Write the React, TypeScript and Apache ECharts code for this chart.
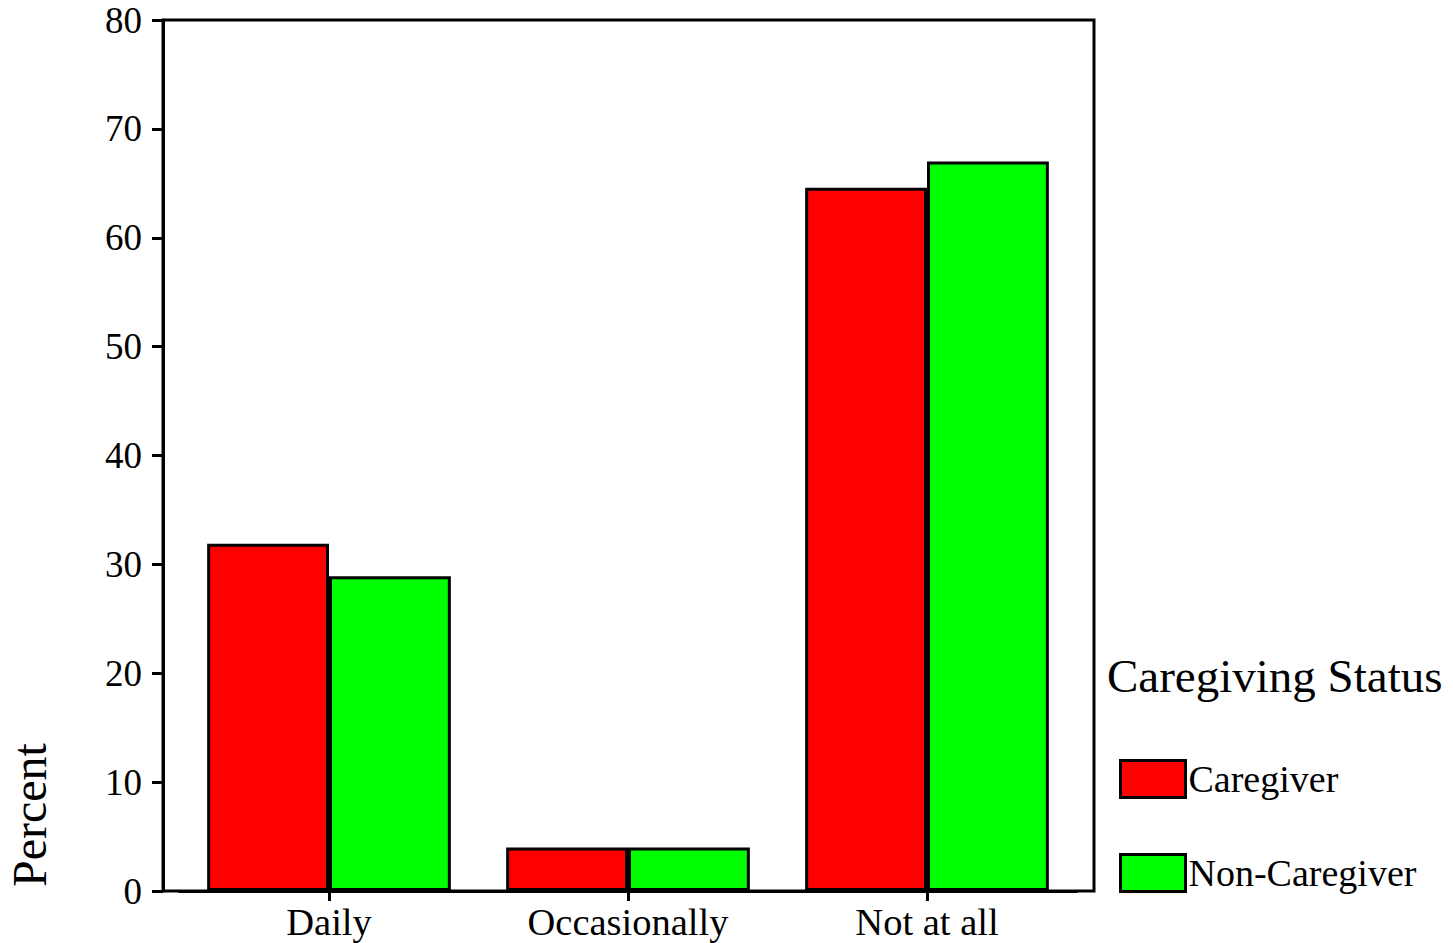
import React, { useEffect, useRef } from "react";
import * as echarts from "echarts";

const categories = ["Daily", "Occasionally", "Not at all"];
const caregiver = [31.9, 4.0, 64.6];
const nonCaregiver = [28.9, 4.0, 67.0];
const seriesNames = ["Caregiver", "Non-Caregiver"];
const legendTitle = "Caregiving Status";
const yAxisTitle = "Percent";

const FONT = "'Liberation Serif', 'Times New Roman', serif";

export default function App() {
  const ref = useRef<HTMLDivElement>(null);
  useEffect(() => {
    if (!ref.current) return;
    const chart = echarts.init(ref.current, undefined, { renderer: "svg" });
    chart.setOption({
      animation: false,
      backgroundColor: "#fff",
      textStyle: { fontFamily: FONT, color: "#000" },
      grid: [
        {
          left: 163,
          right: 359,
          top: 20,
          bottom: 52,
          show: true,
          borderColor: "#000",
          borderWidth: 3,
          backgroundColor: "transparent",
        },
        { left: 179.5, right: 376.5, top: 20, bottom: 52 },
      ],
      xAxis: [
        { gridIndex: 0, type: "value", show: false, min: 0, max: 1 },
        {
          gridIndex: 1,
          type: "category",
          data: categories,
          axisLine: { show: true, lineStyle: { color: "#000", width: 3 } },
          axisTick: {
            show: true,
            alignWithLabel: true,
            interval: 0,
            length: 10,
            lineStyle: { color: "#000", width: 3 },
          },
          axisLabel: {
            fontSize: 38.5,
            fontFamily: FONT,
            color: "#000",
            margin: 11,
            interval: 0,
          },
          splitLine: { show: false },
        },
      ],
      yAxis: [
        { gridIndex: 0, type: "value", show: false, min: 0, max: 1 },
        {
          gridIndex: 1,
          type: "value",
          min: 0,
          max: 80,
          interval: 10,
          offset: 16.5,
          axisLine: { show: true, lineStyle: { color: "#000", width: 3 } },
          axisTick: { show: true, length: 11, lineStyle: { color: "#000", width: 3 } },
          axisLabel: { fontSize: 37, fontFamily: FONT, color: "#000", margin: 21 },
          splitLine: { show: false },
        },
      ],
      legend: {
        orient: "vertical",
        left: 1119,
        top: 759,
        padding: 0,
        itemWidth: 65,
        itemHeight: 37,
        itemGap: 54,
        icon: "rect",
        data: seriesNames,
        itemStyle: { borderColor: "#000", borderWidth: 3 },
        textStyle: { fontSize: 38, fontFamily: FONT, color: "#000", padding: [0, 0, 0, -2] },
      },
      graphic: [
        {
          type: "text",
          left: 1107,
          top: 652,
          style: { text: legendTitle, fontSize: 47, fontFamily: FONT, fill: "#000" },
        },
        {
          type: "text",
          x: 29,
          y: 815,
          rotation: Math.PI / 2,
          style: {
            text: yAxisTitle,
            fontSize: 48,
            fontFamily: FONT,
            fill: "#000",
            align: "center",
            verticalAlign: "middle",
          },
        },
      ],
      series: [
        {
          name: seriesNames[0],
          type: "bar",
          xAxisIndex: 1,
          yAxisIndex: 1,
          data: caregiver,
          barGap: "0%",
          barCategoryGap: "18.5%",
          itemStyle: { color: "#ff0000", borderColor: "#000", borderWidth: 3 },
        },
        {
          name: seriesNames[1],
          type: "bar",
          xAxisIndex: 1,
          yAxisIndex: 1,
          data: nonCaregiver,
          barGap: "0%",
          barCategoryGap: "18.5%",
          itemStyle: { color: "#00ff00", borderColor: "#000", borderWidth: 3 },
        },
      ],
    });
    return () => chart.dispose();
  }, []);
  return (
    <div
      ref={ref}
      style={{ position: "fixed", left: 0, top: 0, width: 1453, height: 943 }}
    />
  );
}
